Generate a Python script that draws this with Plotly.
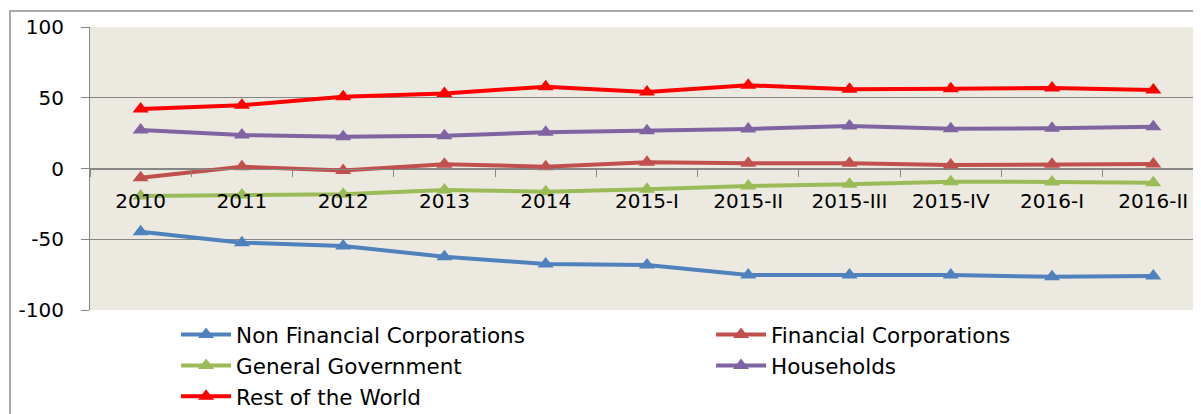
import plotly.graph_objects as go

# categories on the x axis
periods = ['2010', '2011', '2012', '2013', '2014', '2015-I', '2015-II',
           '2015-III', '2015-IV', '2016-I', '2016-II']

# values
non_financial = [-44.7, -52.4, -54.8, -62.3, -67.5, -68.2, -75.3, -75.3, -75.3, -76.5, -76.0]
financial = [-6.5, 1.3, -1.5, 3.0, 1.3, 4.4, 3.7, 3.7, 2.5, 3.0, 3.2]
general_gov = [-19.4, -18.7, -18.2, -15.2, -16.4, -14.7, -12.4, -11.2, -9.3, -9.5, -10.0]
households = [27.2, 23.7, 22.5, 23.2, 25.6, 26.7, 27.9, 30.0, 28.1, 28.4, 29.5]
rest_of_world = [42.0, 44.7, 50.7, 53.0, 57.8, 54.0, 58.8, 56.0, 56.4, 56.9, 55.5]

# y tick values and their labels (plain hyphen like the original)
y_ticks = [-100, -50, 0, 50, 100]
y_labels = ['-100', '-50', '0', '50', '100']

series = [
    ('Non Financial Corporations', non_financial, '#4F81BD'),
    ('Financial Corporations', financial, '#C0504D'),
    ('General Government', general_gov, '#9BBB59'),
    ('Households', households, '#8064A2'),
    ('Rest of the World', rest_of_world, '#FF0000'),
]

font_name = 'DejaVu Sans'

fig = go.Figure()
for name, vals, col in series:
    fig.add_trace(go.Scatter(
        x=periods, y=vals, name=name, mode='lines+markers',
        line=dict(color=col, width=4),
        marker=dict(symbol='triangle-up', size=14, color=col),
    ))

# the page body adds 8px on the left and top; the chart runs past the
# right and bottom edges like the original, so the page is not scrolled
fig.update_layout(
    width=1201, height=414,
    margin=dict(l=82, r=0, t=19, b=112, autoexpand=False),
    paper_bgcolor='white',
    plot_bgcolor='#ECEAE0',
    font=dict(family=font_name, size=20, color='black'),
    legend=dict(
        orientation='h', x=0.0769, xanchor='left', y=-0.014, yanchor='top',
        entrywidth=470, itemwidth=50, font=dict(size=21.5),
        bgcolor='rgba(0,0,0,0)', tracegroupgap=0,
    ),
    xaxis=dict(
        type='category', range=[-0.5, 10.55],
        anchor='free', position=0.5, automargin=False,
        showline=True, linecolor='#868686', linewidth=1,
        ticks='outside', tickson='boundaries', ticklen=7, tickcolor='#868686',
        ticklabelstandoff=14, showgrid=False, zeroline=False,
        tickfont=dict(size=20),
    ),
    yaxis=dict(
        range=[-100, 100], tickmode='array', tickvals=y_ticks, ticktext=y_labels,
        automargin=False,
        showline=True, linecolor='#868686', linewidth=1,
        gridcolor='#868686', gridwidth=1, zeroline=False,
        ticks='outside', ticklen=8, tickcolor='#868686',
        ticklabelstandoff=13, tickfont=dict(size=20),
    ),
    # outer chart border
    shapes=[dict(type='rect', xref='paper', yref='paper',
                 x0=-0.0715, x1=1.05, y0=-1.0, y1=1.0565,
                 line=dict(color='#8C8C8C', width=1.5), layer='below')],
)

fig.write_html('out.html', post_script="document.body.style.overflow='hidden';")
